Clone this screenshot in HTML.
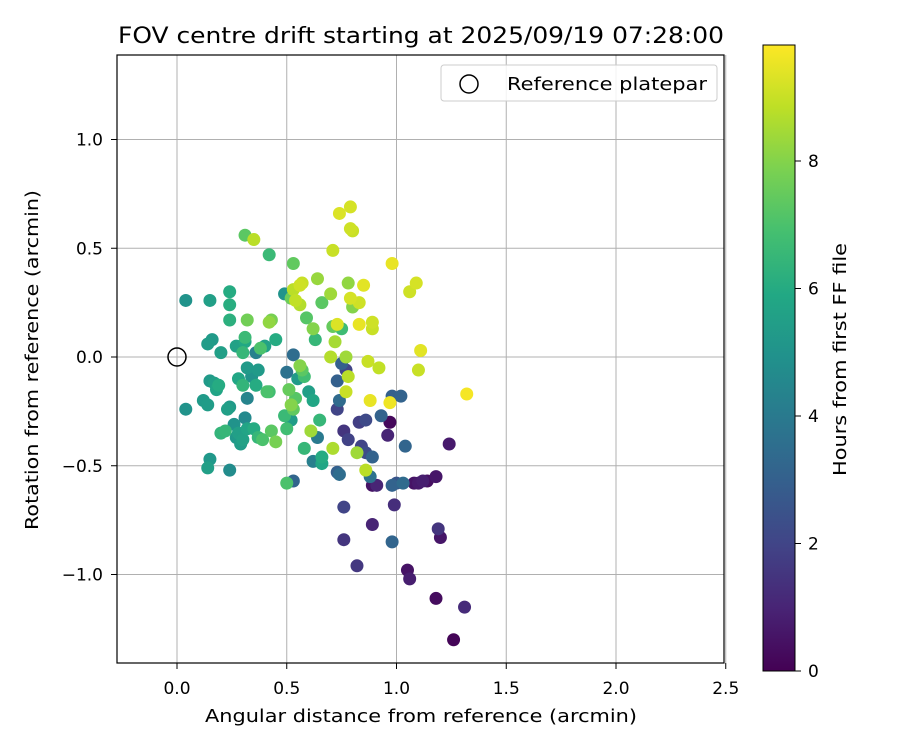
<!DOCTYPE html>
<html><head><meta charset="utf-8"><style>
body{margin:0;background:#fff;}
svg text{font-family:"DejaVu Sans","Liberation Sans",sans-serif;fill:#000;}
</style></head><body>
<svg id="chart" width="900" height="750" xmlns="http://www.w3.org/2000/svg">
<defs>
<linearGradient id="vir" x1="0" y1="1" x2="0" y2="0">
<stop offset="0" stop-color="#440154"/><stop offset="0.1" stop-color="#482475"/><stop offset="0.2" stop-color="#414487"/><stop offset="0.3" stop-color="#355f8d"/><stop offset="0.4" stop-color="#2a788e"/><stop offset="0.5" stop-color="#21918c"/><stop offset="0.6" stop-color="#22a884"/><stop offset="0.7" stop-color="#44bf70"/><stop offset="0.8" stop-color="#7ad151"/><stop offset="0.9" stop-color="#bddf26"/><stop offset="1" stop-color="#fde725"/>
</linearGradient>
<clipPath id="plotclip"><rect x="117" y="55" width="607" height="608"/></clipPath>
</defs>
<text x="118" y="43" font-size="22" textLength="606" lengthAdjust="spacingAndGlyphs">FOV centre drift starting at 2025/09/19 07:28:00</text>
<g id="grid"></g>
<g id="points" clip-path="url(#plotclip)"></g>
<rect x="117" y="55" width="607" height="608" fill="none" stroke="#000" stroke-width="1.2"/>
<g id="axes"></g>
<text x="205" y="722" font-size="18" textLength="432" lengthAdjust="spacingAndGlyphs">Angular distance from reference (arcmin)</text>
<text transform="translate(38,530) rotate(-90)" font-size="18" textLength="340" lengthAdjust="spacingAndGlyphs">Rotation from reference (arcmin)</text>
<g>
<rect x="441" y="65" width="276" height="36" rx="3" fill="#fff" fill-opacity="0.85" stroke="#ccc"/>
<circle cx="469" cy="84" r="9" fill="none" stroke="#000" stroke-width="1.5"/>
<text x="507" y="90" font-size="18" textLength="200" lengthAdjust="spacingAndGlyphs">Reference platepar</text>
</g>
<rect x="763" y="45" width="32" height="626" fill="url(#vir)" stroke="#000" stroke-width="1"/>
<g id="cbar"></g>
<text transform="translate(846,476) rotate(-90)" font-size="18" textLength="233" lengthAdjust="spacingAndGlyphs">Hours from first FF file</text>
</svg>
<script>
const xTicks=[0.0,0.5,1.0,1.5,2.0,2.5];
const yTicks=[-1.0,-0.5,0.0,0.5,1.0];
const cTicks=[0,2,4,6,8];
const xs=[0.74,0.79,0.79,0.80,0.71,0.98,1.09,1.06,0.85,0.79,0.83,0.89,0.89,0.83,0.73,1.11,1.10,0.87,0.92,0.78,0.77,0.88,0.97,1.32,0.70,0.77,0.57,0.56,0.53,0.54,0.56,0.72,0.86,0.71,0.82,0.35,0.70,0.78,
0.31,0.42,0.53,0.64,0.66,0.59,0.62,0.43,0.42,0.32,0.52,0.63,0.80,0.71,0.75,
0.04,0.15,0.24,0.24,0.24,0.16,0.14,0.20,0.27,0.31,0.31,0.38,0.40,0.36,0.30,0.45,0.49,
0.04,0.12,0.14,0.15,0.17,0.18,0.19,0.23,0.24,0.26,0.27,0.30,0.28,0.30,0.32,0.34,0.37,0.36,0.31,0.32,0.35,0.37,0.39,0.41,0.42,0.43,0.45,0.20,0.22,0.14,0.15,0.24,0.32,0.28,0.29,
0.49,0.50,0.51,0.52,0.53,0.52,0.54,0.55,0.56,0.57,0.58,0.60,0.61,0.62,0.62,0.64,0.65,0.66,0.58,0.53,0.50,0.53,0.50,0.66,
0.73,0.74,0.73,0.74,0.76,0.76,0.73,0.75,0.77,0.76,0.78,0.83,0.86,0.84,0.86,0.88,0.89,0.89,0.89,0.82,0.96,0.97,0.98,0.98,0.98,1.00,0.99,1.03,1.02,1.04,1.05,1.06,1.08,1.10,1.12,1.14,1.18,1.18,1.20,1.19,1.24,1.26,1.31,0.93,0.91];
const ys=[0.66,0.69,0.59,0.58,0.49,0.43,0.34,0.30,0.33,0.27,0.25,0.16,0.13,0.15,0.15,0.03,-0.06,-0.02,-0.05,-0.09,-0.16,-0.20,-0.21,-0.17,0.00,0.00,0.34,0.33,0.31,0.26,0.24,0.07,-0.52,-0.42,-0.44,0.54,0.29,0.34,
0.56,0.47,0.43,0.36,0.25,0.18,0.13,0.17,0.16,0.17,0.27,0.08,0.23,0.14,0.13,
0.26,0.26,0.30,0.24,0.17,0.08,0.06,0.02,0.05,0.07,0.09,0.04,0.05,0.02,0.02,0.08,0.29,
-0.24,-0.20,-0.22,-0.11,-0.12,-0.15,-0.13,-0.24,-0.23,-0.31,-0.37,-0.38,-0.10,-0.13,-0.05,-0.09,-0.06,-0.13,-0.28,-0.19,-0.33,-0.37,-0.38,-0.16,-0.16,-0.34,-0.39,-0.35,-0.34,-0.51,-0.47,-0.52,-0.33,-0.35,-0.40,
-0.27,-0.33,-0.15,-0.22,-0.24,-0.29,-0.19,-0.10,-0.04,-0.06,-0.09,-0.16,-0.34,-0.20,-0.48,-0.37,-0.29,-0.49,-0.42,-0.57,-0.58,0.01,-0.07,-0.46,
-0.24,-0.20,-0.53,-0.54,-0.69,-0.84,-0.11,-0.03,-0.06,-0.34,-0.38,-0.30,-0.29,-0.41,-0.44,-0.55,-0.46,-0.59,-0.77,-0.96,-0.36,-0.30,-0.18,-0.85,-0.59,-0.58,-0.68,-0.58,-0.18,-0.41,-0.98,-1.02,-0.58,-0.58,-0.57,-0.57,-0.55,-1.11,-0.83,-0.79,-0.40,-1.30,-1.15,-0.27,-0.59];
const hours=[9.3,9.2,9.1,9.0,9.0,9.5,9.2,9.1,9.4,9.2,9.1,9.1,9.0,9.5,9.3,9.4,9.0,9.0,8.9,8.8,9.0,9.5,9.6,9.7,8.7,8.4,9.0,9.1,8.8,8.9,8.7,8.5,8.8,8.6,8.4,8.8,8.4,8.2,
7.3,6.6,7.4,8.3,7.3,7.2,8.0,7.8,8.2,7.7,7.6,6.5,8.0,7.5,6.7,
5.0,5.5,6.0,6.1,6.2,5.3,5.4,5.5,5.6,5.9,6.6,7.0,5.6,4.3,6.5,6.0,5.0,
5.0,5.3,5.4,5.3,5.5,5.7,6.0,5.5,5.3,5.0,5.2,5.6,5.8,6.4,5.3,5.0,5.3,6.0,4.6,4.4,6.0,6.5,7.0,7.0,6.8,7.3,7.8,6.4,6.5,5.5,5.2,4.7,5.7,5.5,5.4,
6.6,6.8,7.5,8.0,7.4,5.4,7.2,5.3,8.0,7.3,6.8,5.5,8.4,5.8,4.2,4.0,6.5,5.8,6.5,3.2,7.0,3.5,3.7,6.0,
2.0,3.4,3.0,3.5,2.0,1.5,3.0,3.0,2.0,1.5,1.9,1.8,2.2,2.0,2.3,3.7,3.1,0.5,1.0,1.6,1.0,0.2,3.0,3.2,3.1,2.6,1.3,3.4,3.1,3.2,0.5,0.8,0.5,0.7,0.8,0.4,0.6,0.3,0.6,1.5,0.7,0.1,1.2,3.1,1.0];

const X0=177,XS=219.5,Y0=357,YS=217.5,CB0=671,CBS=63.75,HMAX=9.82;
const X=v=>X0+v*XS, Y=v=>Y0-v*YS, C=h=>CB0-h*CBS;
const NS="http://www.w3.org/2000/svg";
function mk(tag,attrs,parent,txt){const e=document.createElementNS(NS,tag);for(const k in attrs)e.setAttribute(k,attrs[k]);if(txt!==undefined)e.textContent=txt;parent.appendChild(e);return e;}
const vir=[[68,1,84],[72,36,117],[65,68,135],[53,95,141],[42,120,142],[33,145,140],[34,168,132],[68,191,112],[122,209,81],[189,223,38],[253,231,37]];
function col(h){let t=Math.max(0,Math.min(1,h/HMAX))*10;const i=Math.min(9,Math.floor(t)),f=t-i;const a=vir[i],b=vir[i+1];return `rgb(${a.map((v,k)=>Math.round(v+(b[k]-v)*f)).join(',')})`;}
const fmt=v=>(v<0?'\u2212':'')+Math.abs(v).toFixed(1);
const grid=document.getElementById('grid'),axes=document.getElementById('axes');
xTicks.forEach(t=>{
  const gl=mk('line',{x1:X(t),x2:X(t),y1:55,y2:663,stroke:'#b0b0b0','stroke-width':1},grid);
  
  
  mk('line',{x1:X(t),x2:X(t),y1:663,y2:669,stroke:'#000'},axes);
  const tl=mk('text',{x:X(t),y:694,'font-size':17,'text-anchor':'middle'},axes,fmt(t));
  
  
});
yTicks.forEach(t=>{
  const gl=mk('line',{x1:117,x2:724,y1:Y(t),y2:Y(t),stroke:'#b0b0b0','stroke-width':1},grid);
  
  
  mk('line',{x1:111,x2:117,y1:Y(t),y2:Y(t),stroke:'#000'},axes);
  const tl=mk('text',{x:103,y:Y(t)+6,'font-size':17,'text-anchor':'end'},axes,fmt(t));
  
  
});
const cb=document.getElementById('cbar');
cTicks.forEach(t=>{
  mk('line',{x1:795,x2:801,y1:C(t),y2:C(t),stroke:'#000'},cb);
  const tl=mk('text',{x:808,y:C(t)+6,'font-size':17},cb,String(t));
  
  
});
const pts=document.getElementById('points');
const idx=hours.map((h,i)=>i).sort((a,b)=>hours[a]-hours[b]);
idx.forEach(i=>{
  const c=mk('circle',{cx:X(xs[i]),cy:Y(ys[i]),r:6.5,fill:col(hours[i])},pts);
  
  
});
const ref=mk('circle',{cx:X(0),cy:Y(0),r:9,fill:'none',stroke:'#000','stroke-width':1.5},pts);


</script>
</body></html>
